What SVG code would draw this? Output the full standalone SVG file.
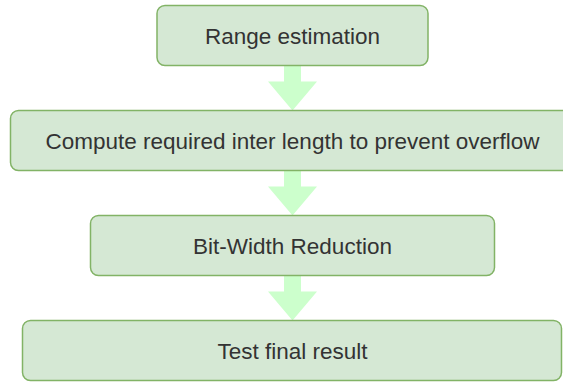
<svg xmlns="http://www.w3.org/2000/svg" width="563" height="382" viewBox="0 0 563 382">
  <style>
    .box { fill: #d5e8d4; stroke: #82b366; stroke-width: 1.5; }
    .label { font-family: "Liberation Sans", Arial, sans-serif; font-size: 22.5px; fill: #333333; text-anchor: middle; }
    .flow { fill: #ccffcc; stroke: none; }
  </style>
  <defs>
    <!-- block arrow pointing down, origin at top of shaft on centre line -->
    <path id="downArrow" d="M -8.5 0 H 8.5 V 16 H 24.5 L 0 45 L -24.5 16 H -8.5 Z"/>
  </defs>
  <rect width="563" height="382" fill="#ffffff"/>

  <g id="connectors">
    <use href="#downArrow" class="flow" x="292.5" y="65.5"/>
    <use href="#downArrow" class="flow" x="292.5" y="170.5"/>
    <use href="#downArrow" class="flow" x="292.5" y="275.5"/>
  </g>

  <g id="range-estimation">
    <rect class="box" x="157" y="5.5" width="271" height="60" rx="8"/>
    <text class="label" x="292.5" y="43.5">Range estimation</text>
  </g>

  <g id="compute-length">
    <rect class="box" x="10.5" y="110.5" width="564" height="60" rx="8"/>
    <text class="label" x="292.5" y="148.5">Compute required inter length to prevent overflow</text>
  </g>

  <g id="bit-width-reduction">
    <rect class="box" x="90.5" y="215.5" width="404" height="60" rx="8"/>
    <text class="label" x="292.5" y="253.5">Bit-Width Reduction</text>
  </g>

  <g id="test-final-result">
    <rect class="box" x="22.5" y="320.5" width="539" height="60" rx="8"/>
    <text class="label" x="292.5" y="358.5">Test final result</text>
  </g>
</svg>
